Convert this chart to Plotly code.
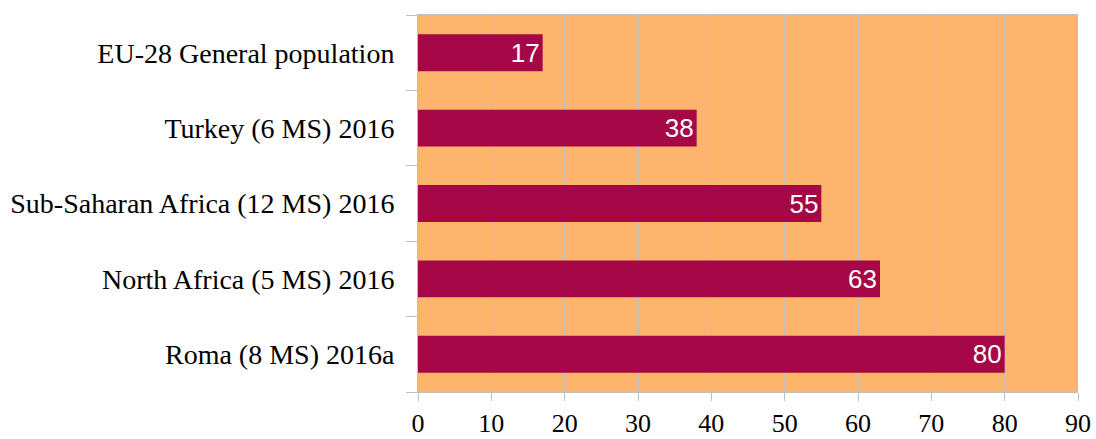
import plotly.graph_objects as go

categories = [
    "Roma (8 MS) 2016a",
    "North Africa (5 MS) 2016",
    "Sub-Saharan Africa (12 MS) 2016",
    "Turkey (6 MS) 2016",
    "EU-28 General population",
]
values = [80, 63, 55, 38, 17]

fig = go.Figure(go.Bar(
    x=values,
    y=categories,
    orientation="h",
    marker=dict(color="#A50747", line=dict(width=0)),
    text=values,
    textposition="inside",
    insidetextanchor="end",
    textfont=dict(family="Liberation Sans Narrow, Arial Narrow, Liberation Sans", size=26, color="white"),
    width=0.49,
))

fig.update_layout(
    width=1096,
    height=439,
    margin=dict(l=418, r=18, t=15, b=47),
    plot_bgcolor="#FDB46C",
    paper_bgcolor="white",
    showlegend=False,
    font=dict(family="Liberation Serif, Times New Roman", size=28, color="black"),
)

fig.update_xaxes(
    range=[0, 90],
    dtick=10,
    showgrid=True,
    gridcolor="#BFBFBF",
    gridwidth=1,
    zeroline=False,
    ticks="outside",
    ticklen=8,
    tickcolor="#BFBFBF",
    showline=True,
    linecolor="#BFBFBF",
    mirror=True,
    tickfont=dict(family="Liberation Serif, Times New Roman", size=26),
    automargin=False,
)

fig.update_yaxes(
    tickson="boundaries",
    ticks="outside",
    ticklen=11,
    tickcolor="#BFBFBF",
    showline=True,
    linecolor="#BFBFBF",
    showgrid=False,
    tickfont=dict(family="Liberation Serif, Times New Roman", size=28),
    ticklabelstandoff=17,
    automargin=False,
)

fig.write_html(
    "out.html",
    config={"displayModeBar": False},
    post_script="document.body.style.margin='0';",
)
